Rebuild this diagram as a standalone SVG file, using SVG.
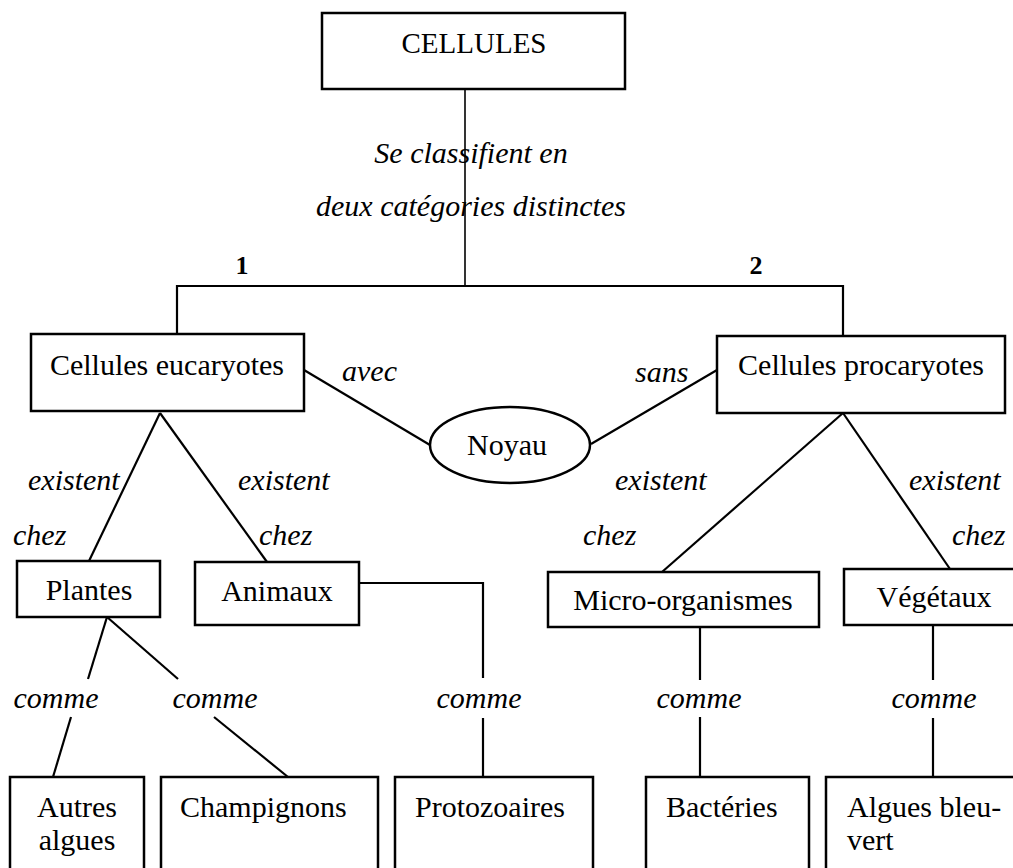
<svg xmlns="http://www.w3.org/2000/svg" width="1013" height="868" viewBox="0 0 1013 868">
<style>
  .box { fill: #fff; stroke: #000; stroke-width: 2.5; }
  .ln { fill: none; stroke: #000; stroke-width: 2.2; }
  .t { font-family: "Liberation Serif", "Times New Roman", serif; font-size: 30px; fill: #000; }
  .c { text-anchor: middle; }
  .lbl { font-family: "Liberation Serif", "Times New Roman", serif; font-size: 30px; font-style: italic; fill: #000; }
  .num { font-family: "Liberation Serif", "Times New Roman", serif; font-size: 26px; font-weight: bold; fill: #000; text-anchor: middle; }
</style>
<rect width="1013" height="868" fill="#fff"/>
<g id="connectors">
  <path class="ln" style="stroke-width:1.6" d="M465,89 V286"/>
  <path class="ln" d="M177,334 V286 H843 V336"/>
  <path class="ln" d="M304,370 L430,445"/>
  <path class="ln" d="M591,444 L717,370"/>
  <path class="ln" d="M160,413 L89,561"/>
  <path class="ln" d="M160,413 L267,562"/>
  <path class="ln" d="M843,413 L662,572"/>
  <path class="ln" d="M843,413 L950,569"/>
  <path class="ln" d="M107,617 L88,679"/>
  <path class="ln" d="M107,617 L178,679"/>
  <path class="ln" d="M71,717 L53,777"/>
  <path class="ln" d="M214,717 L288,777"/>
  <path class="ln" d="M359,583 H483 V678"/>
  <path class="ln" d="M483,718 V777"/>
  <path class="ln" d="M700,627 V680"/>
  <path class="ln" d="M700,717 V777"/>
  <path class="ln" d="M933,625 V680"/>
  <path class="ln" d="M933,718 V777"/>
  <text class="lbl c" x="471" y="163">Se classifient en</text>
  <text class="lbl c" x="471" y="216">deux catégories distinctes</text>
  <text class="num" x="242" y="274">1</text>
  <text class="num" x="756" y="274">2</text>
  <text class="lbl" x="342" y="381">avec</text>
  <text class="lbl" x="635" y="382">sans</text>
  <text class="lbl" x="28" y="490">existent</text>
  <text class="lbl" x="238" y="490">existent</text>
  <text class="lbl" x="615" y="490">existent</text>
  <text class="lbl" x="909" y="490">existent</text>
  <text class="lbl" x="13" y="545">chez</text>
  <text class="lbl" x="259" y="545">chez</text>
  <text class="lbl" x="583" y="545">chez</text>
  <text class="lbl" x="952" y="545">chez</text>
  <text class="lbl c" x="56" y="708">comme</text>
  <text class="lbl c" x="215" y="708">comme</text>
  <text class="lbl c" x="479" y="708">comme</text>
  <text class="lbl c" x="699" y="708">comme</text>
  <text class="lbl c" x="934" y="708">comme</text>
</g>
<g id="cellules">
  <rect class="box" x="322" y="13" width="303" height="76"/>
  <text class="t c" x="474" y="53" style="font-size:29px">CELLULES</text>
</g>
<g id="eucaryotes">
  <rect class="box" x="31" y="334" width="273" height="77"/>
  <text class="t c" x="167" y="375">Cellules eucaryotes</text>
</g>
<g id="procaryotes">
  <rect class="box" x="717" y="336" width="288" height="77"/>
  <text class="t c" x="861" y="375">Cellules procaryotes</text>
</g>
<g id="noyau">
  <ellipse class="box" cx="510" cy="445" rx="80" ry="38"/>
  <text class="t c" x="507" y="455">Noyau</text>
</g>
<g id="plantes">
  <rect class="box" x="17" y="561" width="143" height="56"/>
  <text class="t c" x="89" y="600">Plantes</text>
</g>
<g id="animaux">
  <rect class="box" x="195" y="562" width="164" height="63"/>
  <text class="t c" x="277" y="601">Animaux</text>
</g>
<g id="micro">
  <rect class="box" x="548" y="572" width="271" height="55"/>
  <text class="t c" x="683" y="610">Micro-organismes</text>
</g>
<g id="vegetaux">
  <rect class="box" x="844" y="569" width="180" height="56"/>
  <text class="t c" x="934" y="607">Végétaux</text>
</g>
<g id="autres-algues">
  <rect class="box" x="10" y="777" width="134" height="110"/>
  <text class="t c" x="77" y="817">Autres</text>
  <text class="t c" x="77" y="850">algues</text>
</g>
<g id="champignons">
  <rect class="box" x="161" y="777" width="217" height="110"/>
  <text class="t" x="180" y="817">Champignons</text>
</g>
<g id="protozoaires">
  <rect class="box" x="395" y="777" width="198" height="110"/>
  <text class="t" x="415" y="817">Protozoaires</text>
</g>
<g id="bacteries">
  <rect class="box" x="646" y="777" width="163" height="110"/>
  <text class="t" x="666" y="817">Bactéries</text>
</g>
<g id="algues-bleu-vert">
  <rect class="box" x="826" y="777" width="200" height="110"/>
  <text class="t" x="847" y="817">Algues bleu-</text>
  <text class="t" x="847" y="850">vert</text>
</g>
</svg>
